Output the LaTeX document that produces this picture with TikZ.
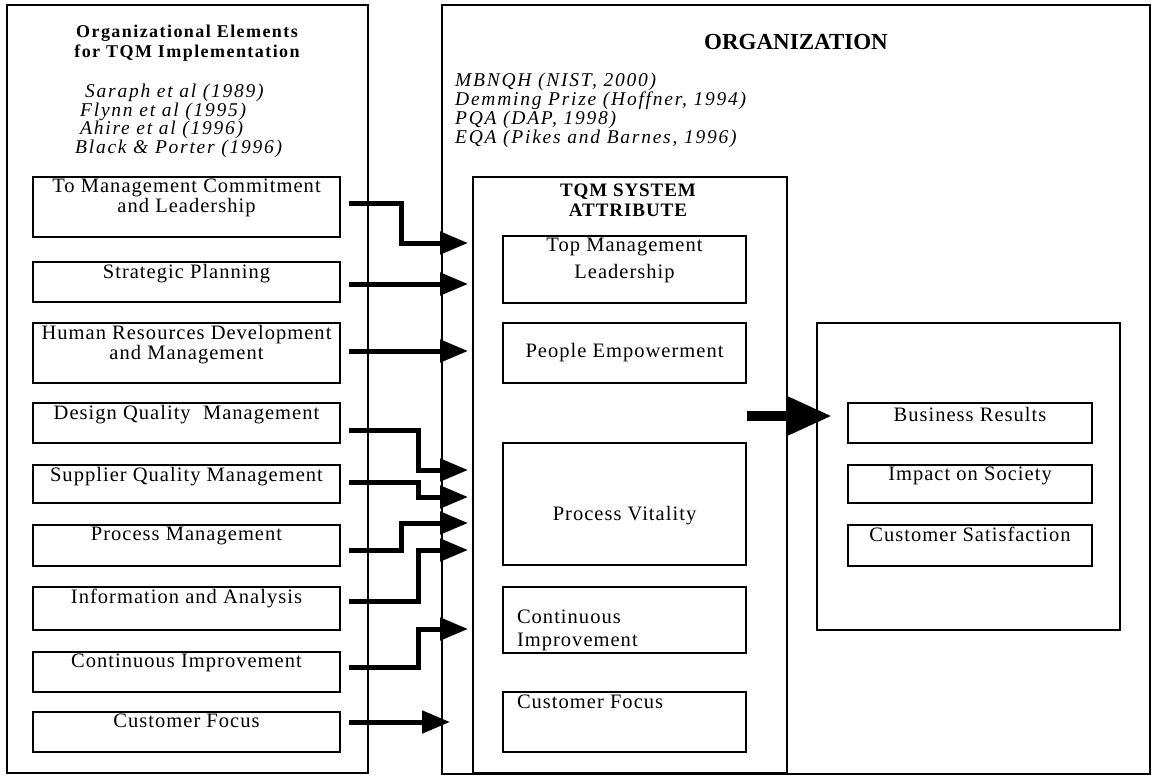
\documentclass[tikz,border=0pt]{standalone}
\usepackage{fontspec}
\setmainfont{Liberation Serif}[LetterSpace=5]
\usetikzlibrary{arrows.meta}

\begin{document}
\begin{tikzpicture}[x=1pt, y=-1pt, font=\fontsize{20.5}{20}\selectfont,
  outer/.style={draw, line width=2.6pt, inner sep=0pt},
  bx/.style={draw, line width=2.4pt, inner sep=0pt, minimum width=307pt, minimum height=40pt},
  tq/.style={bx, minimum width=243pt},
  rs/.style={bx, minimum width=244pt},
  hang/.style={anchor=north, inner sep=3pt, align=center},
  lhang/.style={anchor=north west, align=left, inner sep=0pt, xshift=15pt},
  head/.style={font=\fontsize{18}{20}\selectfont\bfseries\addfontfeature{LetterSpace=8}, align=center},
  cite/.style={font=\fontsize{19.5}{19}\selectfont\itshape\addfontfeature{LetterSpace=9}, align=left, inner sep=0pt},
  flow/.style={line width=5pt, -{Triangle[length=28pt, width=22pt]}},
  bigflow/.style={line width=10pt, -{Triangle[length=44pt, width=36pt]}}]

\useasboundingbox (0,0) rectangle (1152,776);

% elements
\node[outer, minimum width=361pt, minimum height=768pt] (elems) at (187.5,389) {};
\node[head] (elhead) at (187,43) {Organizational Elements\\for TQM Implementation};
\node[cite, anchor=north west, font=\fontsize{19.5}{18.5}\selectfont\itshape\addfontfeature{LetterSpace=9}] (elcite) at (75,84)
  {\hspace{10pt}Saraph et al (1989)\\\hspace{5pt}Flynn et al (1995)\\\hspace{5pt}Ahire et al (1996)\\Black \& Porter (1996)};

\node[bx, minimum height=60pt, label={[hang]north:{To Management Commitment\\and Leadership}}] (tmc) at (186.5,207) {};
\node[bx, label={[hang]north:Strategic Planning}] (sp) at (186.5,282) {};
\node[bx, minimum height=60pt, label={[hang]north:{Human Resources Development\\and Management}}] (hrd) at (186.5,353) {};
\node[bx, label={[hang]north:Design Quality\ \ Management}] (dqm) at (186.5,423) {};
\node[bx, minimum height=38pt, label={[hang]north:Supplier Quality Management}] (sqm) at (186.5,484) {};
\node[bx, minimum height=41pt, label={[hang]north:Process Management}] (pm) at (186.5,545.5) {};
\node[bx, minimum height=43pt, label={[hang]north:Information and Analysis}] (ia) at (186.5,608.5) {};
\node[bx, label={[hang]north:Continuous Improvement}] (cim) at (186.5,672) {};
\node[bx, label={[hang]north:Customer Focus}] (cfo) at (186.5,732) {};

% organization
\node[outer, line width=1.8pt, minimum width=708pt, minimum height=769pt] (org) at (796,389.5) {};
\node[font=\fontsize{23}{24}\selectfont\bfseries\addfontfeature{LetterSpace=0}] (orgtitle) at (796,42) {ORGANIZATION};
\node[cite, anchor=north west] (orgcite) at (455,73)
  {MBNQH (NIST, 2000)\\Demming Prize (Hoffner, 1994)\\PQA (DAP, 1998)\\EQA (Pikes and Barnes, 1996)};

% tqm system
\node[outer, minimum width=314pt, minimum height=596pt] (tqm) at (630,475) {};
\node[head, font=\fontsize{19}{20}\selectfont\bfseries\addfontfeature{LetterSpace=5}] (tqmhead) at (628,200) {TQM SYSTEM\\ATTRIBUTE};
\node[tq, minimum height=67pt, label={[hang]north:{Top Management\\[7pt]Leadership}}] (tml) at (624.5,269.5) {};
\node[tq, minimum height=60pt] (pe) at (624.5,353) {People Empowerment};
\node[tq, minimum height=122pt, label={[yshift=-12pt]center:Process Vitality}] (pv) at (624.5,504) {};
\node[tq, minimum height=66pt, label={[lhang, yshift=-24pt]north west:{Continuous\\[3pt]Improvement}}] (cimp) at (624.5,620) {};
\node[tq, minimum height=60pt, label={[lhang, yshift=-4pt]north west:Customer Focus}] (cfoc) at (624.5,722) {};

% results
\node[outer, line width=2.4pt, minimum width=303pt, minimum height=307pt] (res) at (968.5,476.5) {};
\node[rs, label={[hang, yshift=-2pt]north:Business Results}] (br) at (970,423) {};
\node[rs, minimum height=38pt, label={[hang]north:Impact on Society}] (ios) at (970,484) {};
\node[rs, minimum height=41pt, label={[hang]north:Customer Satisfaction}] (csa) at (970,545.5) {};

\coordinate (in1) at (468,243);
\coordinate (in2) at (468,284);
\coordinate (in3) at (468,351);
\coordinate (in4) at (468,470);
\coordinate (in5) at (468,497);
\coordinate (in6) at (468,523);
\coordinate (in7) at (468,550);
\coordinate (in8) at (468,629);
\coordinate (in9) at (450,722);
\coordinate (out) at (747,416);
\coordinate (into) at (832,416);

\draw[flow] ([xshift=8pt, yshift=4pt]tmc.east) -- ++(52,0) |- (in1);
\draw[flow] ([xshift=8pt]sp.east |- in2) -- (in2);
\draw[flow] ([xshift=8pt]hrd.east |- in3) -- (in3);
\draw[flow] ([xshift=8pt, yshift=-7pt]dqm.east) -- ++(69,0) |- (in4);
\draw[flow] ([xshift=8pt, yshift=2pt]sqm.east) -- ++(69,0) |- (in5);
\draw[flow] ([xshift=8pt, yshift=-4.5pt]pm.east) -- ++(52,0) |- (in6);
\draw[flow] ([xshift=8pt, yshift=7.5pt]ia.east) -- ++(69,0) |- (in7);
\draw[flow] ([xshift=8pt, yshift=5pt]cim.east) -- ++(69,0) |- (in8);
\draw[flow] ([xshift=8pt]cfo.east |- in9) -- (in9);
\draw[bigflow] (out) -- (into);
\end{tikzpicture}
\end{document}
